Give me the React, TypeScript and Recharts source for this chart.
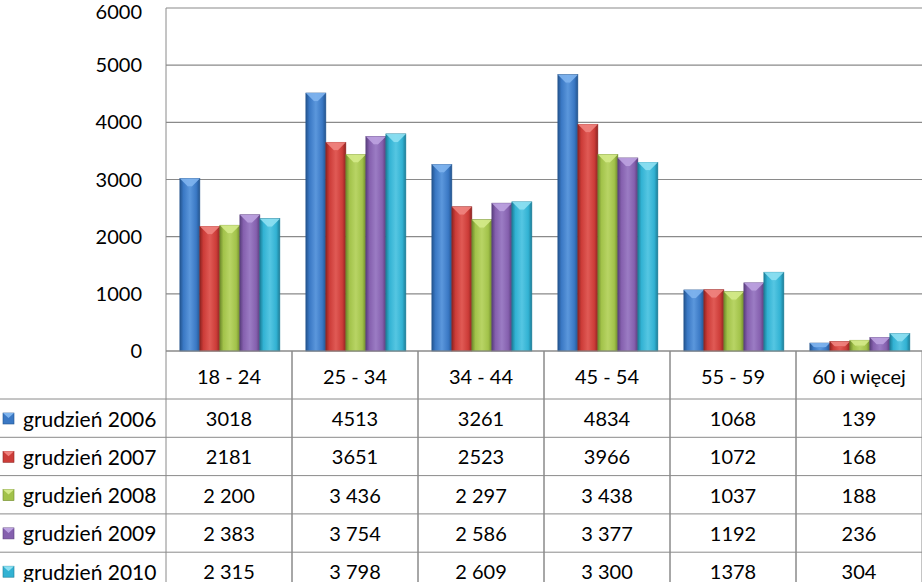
import React from 'react';
import { BarChart, Bar, XAxis, YAxis, CartesianGrid } from 'recharts';

const categories = ['18 - 24', '25 - 34', '34 - 44', '45 - 54', '55 - 59', '60 i więcej'];
const seriesNames = ['grudzień 2006', 'grudzień 2007', 'grudzień 2008', 'grudzień 2009', 'grudzień 2010'];

const dec2006 = [3018, 4513, 3261, 4834, 1068, 139];
const dec2007 = [2181, 3651, 2523, 3966, 1072, 168];
const dec2008 = [2200, 3436, 2297, 3438, 1037, 188];
const dec2009 = [2383, 3754, 2586, 3377, 1192, 236];
const dec2010 = [2315, 3798, 2609, 3300, 1378, 304];

// how the numbers are written in the data table (2008+ uses a space separator)
const tableLabels = [
  ['3018', '4513', '3261', '4834', '1068', '139'],
  ['2181', '3651', '2523', '3966', '1072', '168'],
  ['2 200', '3 436', '2 297', '3 438', '1037', '188'],
  ['2 383', '3 754', '2 586', '3 377', '1192', '236'],
  ['2 315', '3 798', '2 609', '3 300', '1378', '304'],
];

const yTicks = [0, 1000, 2000, 3000, 4000, 5000, 6000];

const allSeries = [dec2006, dec2007, dec2008, dec2009, dec2010];
const keys = ['s2006', 's2007', 's2008', 's2009', 's2010'];

const data = categories.map((name, i) => {
  const row: any = { name };
  keys.forEach((k, s) => (row[k] = allSeries[s][i]));
  return row;
});

// base, dark edge, light centre, top highlight
const palette = [
  { base: '#3a78c4', dark: '#24558f', light: '#5b97dc', top: '#7fb4ee' },
  { base: '#cc3c38', dark: '#8f2522', light: '#e05a55', top: '#f08480' },
  { base: '#a2c24a', dark: '#6f8a2c', light: '#b8d465', top: '#d4ea8a' },
  { base: '#8560ae', dark: '#5a3f7d', light: '#9b7cc4', top: '#bca2e0' },
  { base: '#32b2d3', dark: '#1d7e98', light: '#55c6e2', top: '#8ee0f2' },
];

const FONT = 'Lato, "Open Sans", sans-serif';
const LINE = '#8a8a8a';

const BevelBar = (props: any) => {
  const { x, y, width, height, idx } = props;
  if (!height || height <= 0) return null;
  const c = palette[idx];
  const cap = Math.min(8, height / 2, width / 2);
  return (
    <g>
      <rect x={x} y={y} width={width} height={height} fill={`url(#bar-grad-${idx})`} stroke={c.dark} strokeWidth={0.6} />
      <polygon
        points={`${x},${y} ${x + width},${y} ${x + width - cap},${y + cap} ${x + cap},${y + cap}`}
        fill={c.top}
        opacity={0.9}
      />
      <polygon points={`${x + cap},${y + cap} ${x + width - cap},${y + cap} ${x + width / 2},${y + cap + 2}`} fill={c.light} />
    </g>
  );
};

const TableTick = (props: any) => {
  const { x, y, payload, index } = props;
  const band = 126;
  const left = x - band / 2;
  const right = x + band / 2;
  const rowTop = y + 48;
  const rowH = 38.3;
  return (
    <g fontFamily={FONT} fontSize={20} fill="#000">
      <line x1={left} y1={y} x2={left} y2={582} stroke={LINE} />
      <line x1={right} y1={y} x2={right} y2={582} stroke={LINE} />
      <text x={x} y={y + 25} textAnchor="middle" dominantBaseline="central" fill="#000">
        {payload.value}
      </text>
      {tableLabels.map((row, s) => {
        const top = rowTop + s * rowH;
        const mid = top + 19;
        return (
          <g key={s}>
            <line x1={index === 0 ? 0 : left} y1={top} x2={right} y2={top} stroke={LINE} />
            <text x={x} y={mid} textAnchor="middle" dominantBaseline="central" fill="#000">
              {row[index]}
            </text>
            {index === 0 && (
              <g>
                <rect x={3} y={mid - 5} width={11} height={11} fill={palette[s].base} stroke={palette[s].dark} strokeWidth={0.6} />
                <polygon points={`3,${mid - 5} 14,${mid - 5} 8.5,${mid}`} fill={palette[s].top} />
                <text x={23} y={mid} dominantBaseline="central" fontSize={21} fill="#000">
                  {seriesNames[s]}
                </text>
              </g>
            )}
          </g>
        );
      })}
    </g>
  );
};

export default function App() {
  return (
    <div style={{ position: 'absolute', left: 0, top: 0, width: 922, height: 582, background: '#fff', overflow: 'hidden' }}>
      <BarChart
        width={922}
        height={582}
        data={data}
        margin={{ top: 8, right: 0, left: 0, bottom: 0 }}
        barCategoryGap="11%"
        barGap={0}
      >
        <defs>
          {palette.map((c, i) => (
            <linearGradient key={i} id={`bar-grad-${i}`} x1="0" y1="0" x2="1" y2="0">
              <stop offset="0%" stopColor={c.dark} />
              <stop offset="18%" stopColor={c.base} />
              <stop offset="50%" stopColor={c.light} />
              <stop offset="82%" stopColor={c.base} />
              <stop offset="100%" stopColor={c.dark} />
            </linearGradient>
          ))}
        </defs>
        <CartesianGrid vertical={false} stroke={LINE} strokeWidth={1.2} />
        <XAxis
          dataKey="name"
          height={231}
          interval={0}
          tickSize={0}
          tickMargin={0}
          axisLine={{ stroke: LINE }}
          tick={<TableTick />}
        />
        <YAxis
          width={166}
          domain={[0, 6000]}
          ticks={yTicks}
          tickSize={0}
          tickMargin={24}
          axisLine={{ stroke: LINE }}
          tick={{ fill: '#000', fontSize: 20, fontFamily: FONT }}
        />
        {keys.map((k, i) => (
          <Bar key={k} dataKey={k} isAnimationActive={false} shape={(p: any) => <BevelBar {...p} idx={i} />} />
        ))}
      </BarChart>
    </div>
  );
}
